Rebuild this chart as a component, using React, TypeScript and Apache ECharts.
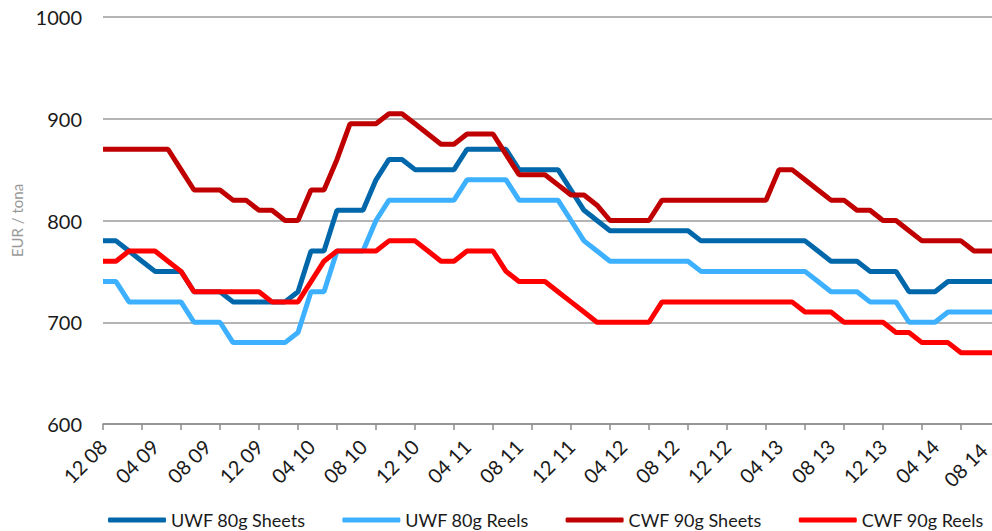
import React, { useEffect, useRef } from "react";
import * as echarts from "echarts";

const categories = [
  "12 08",
  "01 09", "02 09", "03 09", "04 09", "05 09", "06 09", "07 09", "08 09", "09 09", "10 09", "11 09", "12 09",
  "01 10", "02 10", "03 10", "04 10", "05 10", "06 10", "07 10", "08 10", "09 10", "10 10", "11 10", "12 10",
  "01 11", "02 11", "03 11", "04 11", "05 11", "06 11", "07 11", "08 11", "09 11", "10 11", "11 11", "12 11",
  "01 12", "02 12", "03 12", "04 12", "05 12", "06 12", "07 12", "08 12", "09 12", "10 12", "11 12", "12 12",
  "01 13", "02 13", "03 13", "04 13", "05 13", "06 13", "07 13", "08 13", "09 13", "10 13", "11 13", "12 13",
  "01 14", "02 14", "03 14", "04 14", "05 14", "06 14", "07 14", "08 14", "09 14",
];

const uwfSheets = [
  780, 780, 770, 760, 750, 750, 750, 730, 730, 730,
  720, 720, 720, 720, 720, 730, 770, 770, 810, 810,
  810, 840, 860, 860, 850, 850, 850, 850, 870, 870,
  870, 870, 850, 850, 850, 850, 830, 810, 800, 790,
  790, 790, 790, 790, 790, 790, 780, 780, 780, 780,
  780, 780, 780, 780, 780, 770, 760, 760, 760, 750,
  750, 750, 730, 730, 730, 740, 740, 740, 740, 740,
];

const uwfReels = [
  740, 740, 720, 720, 720, 720, 720, 700, 700, 700,
  680, 680, 680, 680, 680, 690, 730, 730, 770, 770,
  770, 800, 820, 820, 820, 820, 820, 820, 840, 840,
  840, 840, 820, 820, 820, 820, 800, 780, 770, 760,
  760, 760, 760, 760, 760, 760, 750, 750, 750, 750,
  750, 750, 750, 750, 750, 740, 730, 730, 730, 720,
  720, 720, 700, 700, 700, 710, 710, 710, 710, 710,
];

const cwfSheets = [
  870, 870, 870, 870, 870, 870, 850, 830, 830, 830,
  820, 820, 810, 810, 800, 800, 830, 830, 860, 895,
  895, 895, 905, 905, 895, 885, 875, 875, 885, 885,
  885, 865, 845, 845, 845, 835, 825, 825, 815, 800,
  800, 800, 800, 820, 820, 820, 820, 820, 820, 820,
  820, 820, 850, 850, 840, 830, 820, 820, 810, 810,
  800, 800, 790, 780, 780, 780, 780, 770, 770, 770,
];

const cwfReels = [
  760, 760, 770, 770, 770, 760, 750, 730, 730, 730,
  730, 730, 730, 720, 720, 720, 740, 760, 770, 770,
  770, 770, 780, 780, 780, 770, 760, 760, 770, 770,
  770, 750, 740, 740, 740, 730, 720, 710, 700, 700,
  700, 700, 700, 720, 720, 720, 720, 720, 720, 720,
  720, 720, 720, 720, 710, 710, 710, 700, 700, 700,
  700, 690, 690, 680, 680, 680, 670, 670, 670, 670,
];

const seriesNames = ["UWF 80g Sheets", "UWF 80g Reels", "CWF 90g Sheets", "CWF 90g Reels"];
const seriesColors = ["#0067AA", "#3DB1FF", "#C00000", "#FF0000"];
const seriesData = [uwfSheets, uwfReels, cwfSheets, cwfReels];

const FONT = "Lato, 'Noto Sans', sans-serif";
const LAST_LABEL = "08 14";

export default function App() {
  const ref = useRef<HTMLDivElement>(null);
  useEffect(() => {
    if (!ref.current) return;
    const chart = echarts.init(ref.current, undefined, { renderer: "svg" });
    chart.setOption({
      animation: false,
      backgroundColor: "#ffffff",
      textStyle: { fontFamily: FONT },
      grid: { left: 103, right: 0, top: 17, bottom: 107, containLabel: false },
      legend: {
        data: seriesNames,
        left: 103,
        top: 505,
        icon: "roundRect",
        itemWidth: 58,
        itemHeight: 5,
        itemGap: 37,
        textStyle: { fontFamily: FONT, fontSize: 18, lineHeight: 20, color: "#1a1a1a" },
      },
      xAxis: {
        type: "category",
        data: categories,
        boundaryGap: false,
        axisLine: { show: true, lineStyle: { color: "#8c8c8c", width: 1.5 } },
        axisTick: { show: true, interval: 2, length: 6, lineStyle: { color: "#8c8c8c", width: 1.5 } },
        axisLabel: {
          interval: 3,
          rotate: 45,
          margin: 19,
          fontFamily: FONT,
          fontSize: 20,
          lineHeight: 20,
          color: "#1a1a1a",
          formatter: (v: string) => (v === LAST_LABEL ? `{b|${v}}` : `{a|${v}}`),
          rich: {
            a: { fontFamily: FONT, fontSize: 20, lineHeight: 20, color: "#1a1a1a" },
            b: { fontFamily: FONT, fontSize: 20, lineHeight: 20, color: "#1a1a1a", padding: [0, 5, 0, 0] },
          },
        },
        splitLine: { show: false },
      },
      yAxis: {
        type: "value",
        min: 600,
        max: 1000,
        interval: 100,
        name: "EUR / tona",
        nameLocation: "middle",
        nameGap: 77,
        nameTextStyle: { fontFamily: FONT, fontSize: 15, color: "#9a9a9a" },
        axisLine: { show: false },
        axisTick: { show: false },
        axisLabel: {
          margin: 21,
          fontFamily: FONT,
          fontSize: 20,
          color: "#1a1a1a",
          formatter: (v: number) => String(v),
        },
        splitLine: { show: true, lineStyle: { color: "#9b9b9b", width: 1.5 } },
      },
      series: seriesNames.map((name, i) => ({
        name,
        type: "line",
        data: seriesData[i],
        symbol: "none",
        showSymbol: false,
        color: seriesColors[i],
        lineStyle: { color: seriesColors[i], width: 5 },
        itemStyle: { color: seriesColors[i] },
      })),
    });
    return () => chart.dispose();
  }, []);
  return (
    <div style={{ position: "fixed", left: 0, top: 0, width: 992, height: 531, overflow: "hidden", background: "#fff" }}>
      <div ref={ref} style={{ width: 1000, height: 531 }} />
    </div>
  );
}
